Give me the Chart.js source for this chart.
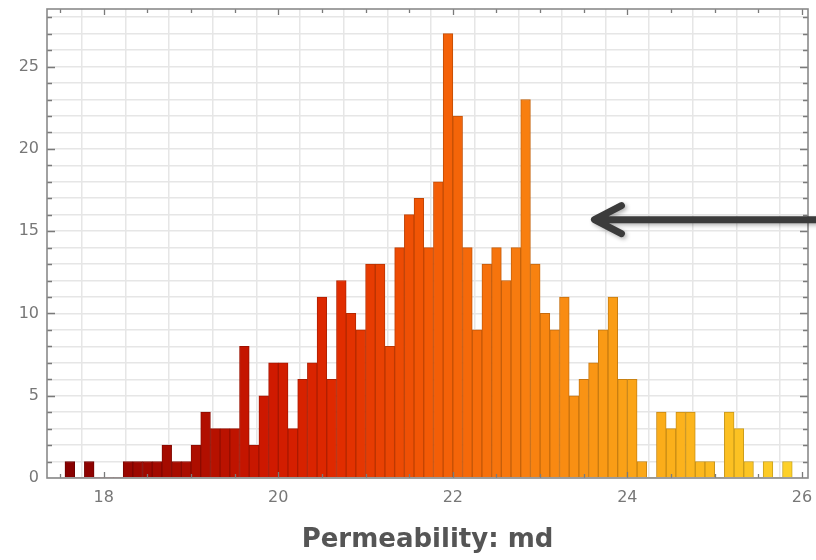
<!DOCTYPE html>
<html>
<head>
<meta charset="utf-8">
<script src="https://cdn.jsdelivr.net/npm/chart.js@4.4.1/dist/chart.umd.min.js"></script>
<style>
  html, body { margin: 0; padding: 0; background: #fff; }
  #chart { display: block; }
</style>
</head>
<body>
<canvas id="chart" width="816" height="560"></canvas>
<script>
// histogram bins, width 1/9 md, left edge of the first bin
const binStart = 17.556;
const binWidth = 1 / 9;
const counts = [
  1, 0, 1, 0, 0, 0, 1, 1, 1, 1,
  2, 1, 1, 2, 4, 3, 3, 3, 8, 2,
  5, 7, 7, 3, 6, 7, 11, 6, 12, 10,
  9, 13, 13, 8, 14, 16, 17, 14, 18, 27,
  22, 14, 9, 13, 14, 12, 14, 23, 13, 10,
  9, 11, 5, 6, 7, 9, 11, 6, 6, 1,
  0, 4, 3, 4, 4, 1, 1, 0, 4, 3,
  1, 0, 1, 0, 1
];
const xTickLabels = [18, 20, 22, 24, 26];
const yTickLabels = [0, 5, 10, 15, 20, 25];
const xRange = [17.35, 26.07];
const yRange = [0, 28.5];
const arrowTip = { x: 23.6, y: 15.7 };

const points = counts.map((c, i) => ({ x: binStart + binWidth * (i + 0.5), y: c }));

// dark red -> orange -> yellow, like the original colour ramp
const colorStops = [
  [0, [136, 0, 0]], [0.18, [174, 14, 0]], [0.27, [205, 24, 0]], [0.37, [224, 42, 0]],
  [0.5, [243, 90, 6]], [0.64, [248, 128, 16]], [0.8, [251, 168, 24]], [1, [253, 208, 40]]
];
function ramp(t, k) {
  let i = 0;
  while (i < colorStops.length - 2 && t > colorStops[i + 1][0]) i++;
  const [t0, c0] = colorStops[i], [t1, c1] = colorStops[i + 1];
  const f = Math.min(1, Math.max(0, (t - t0) / (t1 - t0)));
  const c = c0.map((v, j) => Math.round((v + (c1[j] - v) * f) * k));
  return `rgb(${c[0]},${c[1]},${c[2]})`;
}
const fills = counts.map((_, i) => ramp(i / (counts.length - 1), 1));
const edges = counts.map((_, i) => ramp(i / (counts.length - 1), 0.8));

const frameTicks = {
  id: 'frameTicks',
  afterDatasetsDraw(chart) {
    const { ctx, chartArea: a, scales: { x, y } } = chart;
    ctx.save();
    ctx.strokeStyle = '#7a7a7a';
    ctx.lineWidth = 1.3;
    ctx.beginPath();
    x.ticks.forEach(t => {
      if (t.value <= x.min || t.value >= x.max) return;
      const px = Math.round(x.getPixelForValue(t.value)) + 0.5;
      const len = xTickLabels.includes(t.value) ? 6 : 4;
      ctx.moveTo(px, a.bottom); ctx.lineTo(px, a.bottom - len);
      ctx.moveTo(px, a.top); ctx.lineTo(px, a.top + len);
    });
    y.ticks.forEach(t => {
      if (t.value <= y.min || t.value >= y.max) return;
      const py = Math.round(y.getPixelForValue(t.value)) + 0.5;
      const len = yTickLabels.includes(t.value) ? 8 : 5;
      ctx.moveTo(a.left, py); ctx.lineTo(a.left + len, py);
      ctx.moveTo(a.right, py); ctx.lineTo(a.right - len, py);
    });
    ctx.stroke();
    ctx.strokeStyle = '#8a8a8a';
    ctx.lineWidth = 1.6;
    ctx.strokeRect(a.left, a.top, a.right - a.left, a.bottom - a.top);
    ctx.restore();
  }
};

const arrow = {
  id: 'arrow',
  afterDraw(chart) {
    const { ctx, scales: { x, y } } = chart;
    const tx = x.getPixelForValue(arrowTip.x);
    const ty = y.getPixelForValue(arrowTip.y);
    ctx.save();
    ctx.strokeStyle = '#3b3b3b';
    ctx.lineWidth = 7;
    ctx.lineCap = 'round';
    ctx.lineJoin = 'round';
    ctx.shadowColor = 'rgba(0,0,0,0.3)';
    ctx.shadowBlur = 4;
    ctx.shadowOffsetX = 2;
    ctx.shadowOffsetY = 2;
    ctx.beginPath();
    ctx.moveTo(chart.width + 5, ty);
    ctx.lineTo(tx + 4, ty);
    ctx.moveTo(tx + 29, ty - 14);
    ctx.lineTo(tx + 2, ty);
    ctx.lineTo(tx + 29, ty + 14);
    ctx.stroke();
    ctx.restore();
  }
};

Chart.defaults.font.family = 'DejaVu Sans';

new Chart(document.getElementById('chart').getContext('2d'), {
  type: 'bar',
  data: {
    datasets: [{
      data: points,
      backgroundColor: fills,
      borderColor: edges,
      borderWidth: c => (c.raw && c.raw.y > 0 ? 1 : 0),
      barPercentage: 1,
      categoryPercentage: 1
    }]
  },
  options: {
    responsive: false,
    animation: false,
    devicePixelRatio: 1,
    layout: { padding: { top: 9, right: 8, left: 0, bottom: 0 } },
    plugins: { legend: { display: false }, tooltip: { enabled: false } },
    scales: {
      x: {
        type: 'linear',
        min: xRange[0],
        max: xRange[1],
        offset: false,
        grid: { color: '#e6e6e6', lineWidth: 1.5, drawTicks: false },
        border: { display: false },
        ticks: {
          stepSize: 0.5,
          includeBounds: false,
          autoSkip: false,
          maxRotation: 0,
          padding: 10,
          color: '#777',
          font: { size: 16 },
          callback: v => (xTickLabels.includes(v) ? String(v) : '')
        },
        title: {
          display: true,
          text: 'Permeability: md',
          color: '#555',
          font: { size: 26, weight: 'bold' },
          padding: { top: 0, bottom: 4 }
        },
        afterFit: s => { s.height = 82; s.paddingLeft = 0; s.paddingRight = 0; }
      },
      y: {
        min: yRange[0],
        max: yRange[1],
        grid: { color: '#e6e6e6', lineWidth: 1.5, drawTicks: false },
        border: { display: false },
        ticks: {
          stepSize: 1,
          includeBounds: false,
          autoSkip: false,
          padding: 8,
          color: '#777',
          font: { size: 16 },
          callback: v => (yTickLabels.includes(v) ? String(v) : '')
        },
        afterFit: s => { s.width = 47; s.paddingTop = 0; s.paddingBottom = 0; }
      }
    }
  },
  plugins: [frameTicks, arrow]
});
</script>
</body>
</html>
